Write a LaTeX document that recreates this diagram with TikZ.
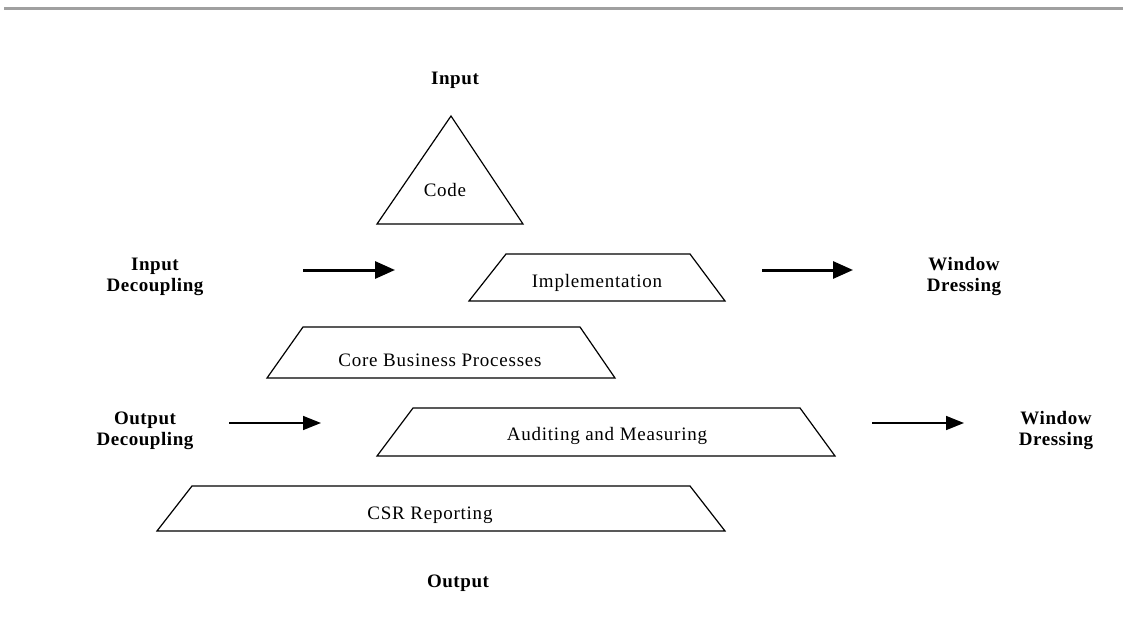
\documentclass[tikz,border=0pt]{standalone}
\usepackage{fontspec}
\setmainfont{Liberation Serif}
\usetikzlibrary{arrows.meta}
\definecolor{rulegray}{RGB}{160,160,160}
\begin{document}
\begin{tikzpicture}[x=1pt,y=-1pt,
  shapeline/.style={draw=black,line width=1.2pt,line join=miter},
  txt/.style={font=\fontsize{19}{21}\selectfont\addfontfeatures{LetterSpace=4},inner sep=0pt},
  lbl/.style={font=\fontsize{19}{21}\selectfont\bfseries\addfontfeatures{LetterSpace=3},inner sep=0pt,align=center},
  bigarrow/.style={line width=3pt,-{Triangle[length=20pt,width=17pt]}},
  smallarrow/.style={line width=1.5pt,-{Triangle[length=18pt,width=14pt]}}]
\useasboundingbox (0,0) rectangle (1123,620);
% top rule
\draw[rulegray,line width=3pt] (4,9) -- (1123,9);
% triangle
\draw[shapeline] (451,116) -- (523,224) -- (377,224) -- cycle;
\node[txt] (code) at (445,190) {Code};
% trapezoids
\draw[shapeline] (506,254) -- (690,254) -- (725,301) -- (469,301) -- cycle;
\node[txt] (impl) at (597,283) {Implementation};
\draw[shapeline] (303,327) -- (580,327) -- (615,378) -- (267,378) -- cycle;
\node[txt] (core) at (440,360) {Core Business Processes};
\draw[shapeline] (413,408) -- (800,408) -- (835,456) -- (377,456) -- cycle;
\node[txt] (audit) at (607,436) {Auditing and Measuring};
\draw[shapeline] (192,486) -- (690,486) -- (725,531) -- (157,531) -- cycle;
\node[txt] (csr) at (430,515) {CSR Reporting};
% labels
\node[lbl] (input) at (455,80) {Input};
\node[lbl] (output) at (458,583) {Output};
\node[lbl] (indec) at (155,277) {Input\\Decoupling};
\node[lbl] (wd1) at (964,277) {Window\\Dressing};
\node[lbl] (outdec) at (145,431) {Output\\Decoupling};
\node[lbl] (wd2) at (1056,431) {Window\\Dressing};
% arrows
\coordinate (a1s) at (303,270); \coordinate (a1e) at (395,270);
\coordinate (a2s) at (762,270); \coordinate (a2e) at (853,270);
\coordinate (a3s) at (229,423); \coordinate (a3e) at (321,423);
\coordinate (a4s) at (872,423); \coordinate (a4e) at (964,423);
\draw[bigarrow] (a1s) -- (a1e);
\draw[bigarrow] (a2s) -- (a2e);
\draw[smallarrow] (a3s) -- (a3e);
\draw[smallarrow] (a4s) -- (a4e);
\end{tikzpicture}
\end{document}
